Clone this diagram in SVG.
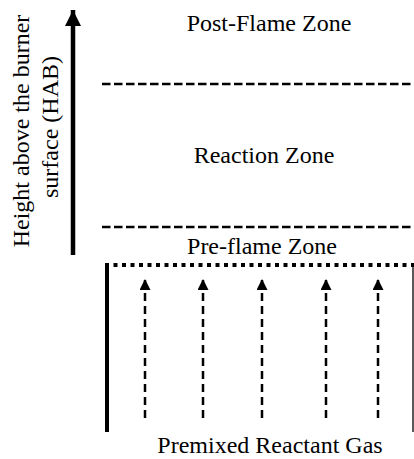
<svg xmlns="http://www.w3.org/2000/svg" width="414" height="459" viewBox="0 0 414 459">
<defs>
<style>
text{font-family:"Liberation Serif","Times New Roman",serif;font-size:24px;fill:#000}
.zone{stroke:#000;stroke-width:2.5;stroke-dasharray:8.5 3.5;fill:none}
.flow{stroke:#000;stroke-width:2.5;stroke-dasharray:8 5;fill:none}
</style>
<marker id="ah" viewBox="0 0 10 10" refX="10" refY="5" markerWidth="11" markerHeight="11" markerUnits="userSpaceOnUse" orient="auto"><path d="M0,0 L10,5 L0,10 z" fill="#000"/></marker>
<marker id="big" viewBox="0 0 10 10" refX="10" refY="5" markerWidth="16" markerHeight="16" markerUnits="userSpaceOnUse" orient="auto"><path d="M0,0 L10,5 L0,10 z" fill="#000"/></marker>
</defs>
<rect width="414" height="459" fill="#fff"/>
<g id="hab-axis">
<line x1="73" y1="255" x2="73" y2="10" stroke="#000" stroke-width="4.5" marker-end="url(#big)"/>
<text transform="translate(29,131) rotate(-90)" text-anchor="middle">Height above the burner</text>
<text transform="translate(58,127) rotate(-90)" text-anchor="middle">surface (HAB)</text>
</g>
<g id="post-flame"><text x="269" y="31" text-anchor="middle">Post-Flame Zone</text></g>
<g id="reaction"><text x="264" y="163" text-anchor="middle">Reaction Zone</text></g>
<g id="pre-flame"><text x="262" y="254" text-anchor="middle">Pre-flame Zone</text></g>
<g id="gas"><text x="270" y="453" text-anchor="middle">Premixed Reactant Gas</text></g>
<g id="burner">
<line x1="107" y1="263" x2="107" y2="432" stroke="#000" stroke-width="4"/>
<line x1="413" y1="263" x2="413" y2="432" stroke="#000" stroke-width="1.3"/>
<line x1="105" y1="265" x2="414" y2="265" stroke="#000" stroke-width="4" stroke-dasharray="4 4.5"/>
</g>
<g id="connectors">
<line class="zone" x1="102" y1="84" x2="414" y2="84"/>
<line class="zone" x1="102" y1="227" x2="414" y2="227"/>
<line class="flow" x1="145" y1="418" x2="145" y2="279" marker-end="url(#ah)"/>
<line class="flow" x1="203" y1="418" x2="203" y2="279" marker-end="url(#ah)"/>
<line class="flow" x1="262" y1="418" x2="262" y2="279" marker-end="url(#ah)"/>
<line class="flow" x1="326" y1="418" x2="326" y2="279" marker-end="url(#ah)"/>
<line class="flow" x1="378" y1="418" x2="378" y2="279" marker-end="url(#ah)"/>
</g>
</svg>
